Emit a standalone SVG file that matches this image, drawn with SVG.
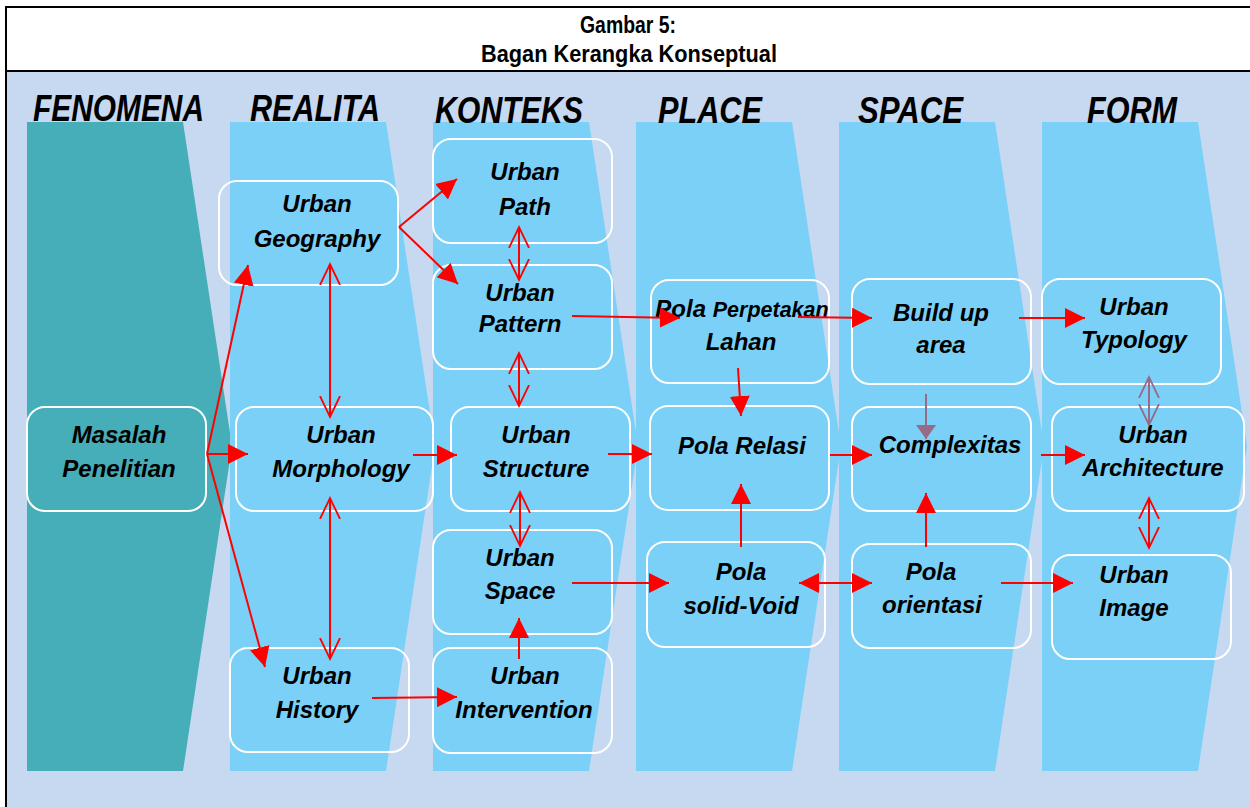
<svg xmlns="http://www.w3.org/2000/svg" width="1250" height="807" viewBox="0 0 1250 807">
  <style>
    .title { font-family: "Liberation Sans", Arial, sans-serif; font-weight: bold; font-size: 23px; fill: #000; }
    .head { font-family: "Liberation Sans", Arial, sans-serif; font-weight: bold; font-style: italic; font-size: 37px; fill: #000; }
    .box { fill: none; stroke: #ffffff; stroke-width: 2; }
    .lbl { font-family: "Liberation Sans", Arial, sans-serif; font-weight: bold; font-style: italic; font-size: 24px; fill: #000; text-anchor: middle; }
    .col { fill: #7AD0F7; }
    .col0 { fill: #46AEB8; }
    .link { fill: none; stroke: #FF0000; stroke-width: 2; }
    .solid { marker-end: url(#tri); }
    .both { marker-start: url(#tri); marker-end: url(#tri); }
    .open2 { marker-start: url(#vee); marker-end: url(#vee); }
    .mauve { fill: none; stroke: #956B88; stroke-width: 2; }
  </style>
  <defs>
    <marker id="tri" markerUnits="userSpaceOnUse" markerWidth="20" markerHeight="20" refX="20" refY="10" orient="auto-start-reverse" viewBox="0 0 20 20">
      <path d="M0,0 L20,10 L0,20 Z" fill="#FF0000"/>
    </marker>
    <marker id="vee" markerUnits="userSpaceOnUse" markerWidth="24" markerHeight="24" refX="21" refY="11" orient="auto-start-reverse" viewBox="0 0 24 22">
      <path d="M0,1 L21,11 L0,21" fill="none" stroke="#FF0000" stroke-width="1.8"/>
    </marker>
    <marker id="triM" markerUnits="userSpaceOnUse" markerWidth="14" markerHeight="20" refX="14" refY="10" orient="auto" viewBox="0 0 14 20">
      <path d="M0,0 L14,10 L0,20 Z" fill="#956B88"/>
    </marker>
    <marker id="veeM" markerUnits="userSpaceOnUse" markerWidth="24" markerHeight="24" refX="21" refY="11" orient="auto-start-reverse" viewBox="0 0 24 22">
      <path d="M0,1 L21,11 L0,21" fill="none" stroke="#956B88" stroke-width="1.8"/>
    </marker>
  </defs>

  <!-- frame and title band -->
  <rect x="0" y="0" width="1250" height="807" fill="#ffffff"/>
  <rect x="7" y="72" width="1243" height="735" fill="#C6D9F0"/>
  <line x1="6" y1="7" x2="1250" y2="7" stroke="#000" stroke-width="2"/>
  <line x1="6" y1="71" x2="1250" y2="71" stroke="#000" stroke-width="2"/>
  <line x1="6" y1="6" x2="6" y2="807" stroke="#000" stroke-width="2"/>
  <text class="title" x="580" y="33" textLength="96" lengthAdjust="spacingAndGlyphs">Gambar 5:</text>
  <text class="title" x="481" y="62" textLength="296" lengthAdjust="spacingAndGlyphs">Bagan Kerangka Konseptual</text>

  <!-- stage columns -->
  <g id="columns">
    <polygon class="col0" points="27,122 183,122 232,446 183,771 27,771"/>
    <polygon class="col" points="230,122 386,122 435,446 386,771 230,771"/>
    <polygon class="col" points="433,122 589,122 638,446 589,771 433,771"/>
    <polygon class="col" points="636,122 792,122 841,446 792,771 636,771"/>
    <polygon class="col" points="839,122 995,122 1044,446 995,771 839,771"/>
    <polygon class="col" points="1042,122 1198,122 1247,446 1198,771 1042,771"/>
  </g>

  <!-- stage headings -->
  <g id="headings">
    <text class="head" x="33" y="121" textLength="171" lengthAdjust="spacingAndGlyphs">FENOMENA</text>
    <text class="head" x="250" y="121" textLength="130" lengthAdjust="spacingAndGlyphs">REALITA</text>
    <text class="head" x="435" y="123" textLength="148" lengthAdjust="spacingAndGlyphs">KONTEKS</text>
    <text class="head" x="658" y="123" textLength="104" lengthAdjust="spacingAndGlyphs">PLACE</text>
    <text class="head" x="858" y="123" textLength="105" lengthAdjust="spacingAndGlyphs">SPACE</text>
    <text class="head" x="1087" y="123" textLength="90" lengthAdjust="spacingAndGlyphs">FORM</text>
  </g>

  <!-- nodes -->
  <g id="masalah-penelitian">
    <rect class="box" x="27" y="407" width="179" height="104" rx="18"/>
    <text class="lbl" x="119" y="443">Masalah</text>
    <text class="lbl" x="119" y="477">Penelitian</text>
  </g>
  <g id="urban-geography">
    <rect class="box" x="219" y="181" width="179" height="104" rx="18"/>
    <text class="lbl" x="317" y="212">Urban</text>
    <text class="lbl" x="317" y="247">Geography</text>
  </g>
  <g id="urban-morphology">
    <rect class="box" x="236" y="407" width="197" height="104" rx="18"/>
    <text class="lbl" x="341" y="443">Urban</text>
    <text class="lbl" x="341" y="477">Morphology</text>
  </g>
  <g id="urban-history">
    <rect class="box" x="230" y="648" width="179" height="104" rx="18"/>
    <text class="lbl" x="317" y="684">Urban</text>
    <text class="lbl" x="317" y="718">History</text>
  </g>
  <g id="urban-path">
    <rect class="box" x="433" y="139" width="179" height="104" rx="18"/>
    <text class="lbl" x="525" y="180">Urban</text>
    <text class="lbl" x="525" y="215">Path</text>
  </g>
  <g id="urban-pattern">
    <rect class="box" x="433" y="265" width="179" height="104" rx="18"/>
    <text class="lbl" x="520" y="301">Urban</text>
    <text class="lbl" x="520" y="332">Pattern</text>
  </g>
  <g id="urban-structure">
    <rect class="box" x="451" y="407" width="179" height="104" rx="18"/>
    <text class="lbl" x="536" y="443">Urban</text>
    <text class="lbl" x="536" y="477">Structure</text>
  </g>
  <g id="urban-space">
    <rect class="box" x="433" y="530" width="179" height="104" rx="18"/>
    <text class="lbl" x="520" y="566">Urban</text>
    <text class="lbl" x="520" y="599">Space</text>
  </g>
  <g id="urban-intervention">
    <rect class="box" x="433" y="648" width="179" height="105" rx="18"/>
    <text class="lbl" x="525" y="684">Urban</text>
    <text class="lbl" x="524" y="718">Intervention</text>
  </g>
  <g id="pola-perpetakan-lahan">
    <rect class="box" x="651" y="280" width="178" height="103" rx="18"/>
    <text class="lbl" x="742" y="317">Pola <tspan font-size="21.5">Perpetakan</tspan></text>
    <text class="lbl" x="741" y="350" font-size="21.5">Lahan</text>
  </g>
  <g id="pola-relasi">
    <rect class="box" x="650" y="406" width="179" height="104" rx="18"/>
    <text class="lbl" x="742" y="454">Pola Relasi</text>
  </g>
  <g id="pola-solid-void">
    <rect class="box" x="647" y="542" width="178" height="105" rx="18"/>
    <text class="lbl" x="741" y="580">Pola</text>
    <text class="lbl" x="741" y="614">solid-Void</text>
  </g>
  <g id="build-up-area">
    <rect class="box" x="852" y="279" width="179" height="105" rx="18"/>
    <text class="lbl" x="941" y="321">Build up</text>
    <text class="lbl" x="941" y="353">area</text>
  </g>
  <g id="complexitas">
    <rect class="box" x="852" y="407" width="179" height="104" rx="18"/>
    <text class="lbl" x="950" y="453">Complexitas</text>
  </g>
  <g id="pola-orientasi">
    <rect class="box" x="852" y="544" width="179" height="104" rx="18"/>
    <text class="lbl" x="931" y="580">Pola</text>
    <text class="lbl" x="932" y="613">orientasi</text>
  </g>
  <g id="urban-typology">
    <rect class="box" x="1042" y="279" width="179" height="105" rx="18"/>
    <text class="lbl" x="1134" y="315">Urban</text>
    <text class="lbl" x="1134" y="348">Typology</text>
  </g>
  <g id="urban-architecture">
    <rect class="box" x="1052" y="407" width="192" height="104" rx="18"/>
    <text class="lbl" x="1153" y="443">Urban</text>
    <text class="lbl" x="1153" y="476">Architecture</text>
  </g>
  <g id="urban-image">
    <rect class="box" x="1052" y="555" width="179" height="104" rx="18"/>
    <text class="lbl" x="1134" y="583">Urban</text>
    <text class="lbl" x="1134" y="616">Image</text>
  </g>

  <!-- connectors -->
  <g id="connectors">
    <path class="link solid" d="M207,454 L248,265"/>
    <path class="link solid" d="M207,454 L248,454"/>
    <path class="link solid" d="M207,454 L265,667"/>
    <path class="link solid" d="M399,227 L457,179"/>
    <path class="link solid" d="M399,227 L458,284"/>
    <path class="link open2" d="M330,264 L330,417"/>
    <path class="link open2" d="M330,498 L330,659"/>
    <path class="link solid" d="M413,455 L457,455"/>
    <path class="link solid" d="M372,698 L457,697"/>
    <path class="link open2" d="M519,227 L519,280"/>
    <path class="link open2" d="M519,353 L519,406"/>
    <path class="link open2" d="M520,492 L520,546"/>
    <path class="link solid" d="M572,316 L680,318"/>
    <path class="link solid" d="M738,368 L741,416"/>
    <path class="link solid" d="M798,317 L872,318"/>
    <path class="link solid" d="M1019,318 L1085,318"/>
    <path class="mauve" d="M926,394 L926,439" marker-end="url(#triM)"/>
    <path class="mauve" d="M1149,377 L1149,425" marker-start="url(#veeM)" marker-end="url(#veeM)"/>
    <path class="link solid" d="M608,454 L652,454"/>
    <path class="link solid" d="M830,455 L872,455"/>
    <path class="link solid" d="M1041,455 L1085,455"/>
    <path class="link solid" d="M572,583 L669,583"/>
    <path class="link solid" d="M519,659 L519,618"/>
    <path class="link solid" d="M741,547 L741,484"/>
    <path class="link both" d="M799,583 L872,583"/>
    <path class="link solid" d="M926,547 L926,493"/>
    <path class="link solid" d="M1001,583 L1073,583"/>
    <path class="link open2" d="M1149,498 L1149,548"/>
  </g>
</svg>
